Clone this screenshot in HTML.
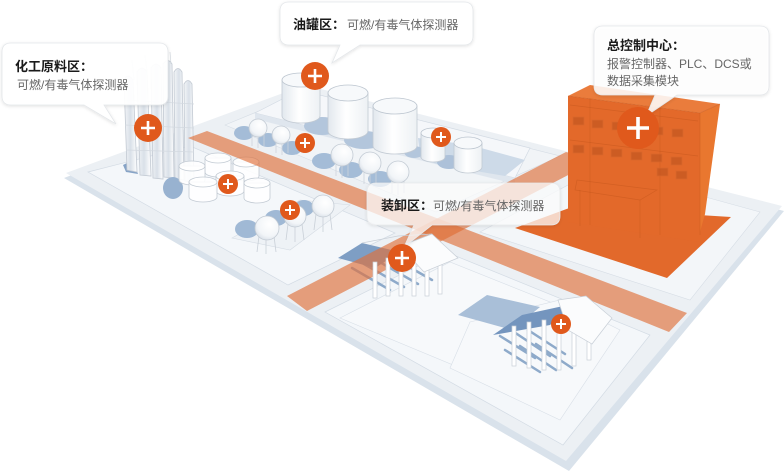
<!DOCTYPE html>
<html><head><meta charset="utf-8">
<style>
html,body{margin:0;padding:0;background:#fff;}
body{width:784px;height:471px;overflow:hidden;position:relative;}
svg{position:absolute;left:0;top:0;display:block;}
</style></head><body>
<svg width="784" height="471" viewBox="0 0 784 471" xmlns="http://www.w3.org/2000/svg">
<defs>
<linearGradient id="cyl" x1="0" x2="1" y1="0" y2="0">
<stop offset="0" stop-color="#e2e8ee"/><stop offset="0.45" stop-color="#ffffff"/><stop offset="1" stop-color="#edf1f4"/>
</linearGradient>
<linearGradient id="col" x1="0" x2="1" y1="0" y2="0">
<stop offset="0" stop-color="#f4f6f8"/><stop offset="0.5" stop-color="#d9e0e8"/><stop offset="1" stop-color="#ffffff"/>
</linearGradient>
<radialGradient id="sph" cx="0.6" cy="0.35" r="0.7">
<stop offset="0" stop-color="#ffffff"/><stop offset="0.7" stop-color="#f2f5f8"/><stop offset="1" stop-color="#d9e0e8"/>
</radialGradient>
<filter id="sh" x="-10%" y="-10%" width="120%" height="130%">
<feDropShadow dx="0" dy="1" stdDeviation="1.5" flood-color="#000" flood-opacity="0.12"/>
</filter>
</defs>

<!-- ground plane -->
<polygon points="64,178 305,85 784,211 569,471" fill="#d9e2eb"/>
<polygon points="66,173 305,85 782,206 566,461" fill="#ecf0f4"/>
<!-- zones -->
<polygon points="88,172 190,146 395,233 288,285" fill="#f4f7fa" stroke="#d3dbe4" stroke-width="0.7"/>
<polygon points="325,312 446,252 650,335 563,445" fill="#f4f7fa" stroke="#d3dbe4" stroke-width="0.7"/>
<polygon points="340,318 450,262 560,306 470,372" fill="#f7f9fb" stroke="#d8dfe7" stroke-width="0.6"/>
<polygon points="470,322 560,300 620,330 560,420 450,368" fill="#f7f9fb" stroke="#d8dfe7" stroke-width="0.6"/>
<polygon points="225,125 305,92 560,156 436,212" fill="#f1f4f7" stroke="#d6dde5" stroke-width="0.6"/>
<polygon points="480,232 600,168 760,212 690,300" fill="#f3f6f9" stroke="#d6dde5" stroke-width="0.6"/>

<!-- tank platform -->
<polygon points="255,113 300,90 530,148 515,178" fill="#f5f7fa" stroke="#d2dae3" stroke-width="0.7"/>
<polygon points="255,113 515,178 515,184 255,119" fill="#dfe6ee"/>
<polygon points="418,138 470,145 525,160 505,176 440,165 420,158" fill="#cddae8"/>

<!-- Q1 tank shadows -->
<ellipse cx="322" cy="126" rx="18" ry="9" fill="#b3c6dc"/>
<ellipse cx="364" cy="140" rx="20" ry="9" fill="#b3c6dc"/>
<ellipse cx="414" cy="152" rx="10" ry="6" fill="#b3c6dc"/>
<ellipse cx="449" cy="162" rx="12" ry="7" fill="#adc1d9"/>
<!-- Q1 tanks -->
<path d="M282,80 V116 A19,7 0 0 0 320,116 V80 Z" fill="url(#cyl)" stroke="#c2cad3" stroke-width="0.8"/>
<ellipse cx="301" cy="80" rx="19" ry="7" fill="#f7f9fb" stroke="#bcc5cf" stroke-width="0.8"/>
<path d="M328,93 V131 A20,8 0 0 0 368,131 V93 Z" fill="url(#cyl)" stroke="#c2cad3" stroke-width="0.8"/>
<ellipse cx="348" cy="93" rx="20" ry="8" fill="#f7f9fb" stroke="#bcc5cf" stroke-width="0.8"/>
<path d="M373,106 V146 A22,8 0 0 0 417,146 V106 Z" fill="url(#cyl)" stroke="#c2cad3" stroke-width="0.8"/>
<ellipse cx="395" cy="106" rx="22" ry="8" fill="#f7f9fb" stroke="#bcc5cf" stroke-width="0.8"/>
<path d="M421,133 V157 A12,5 0 0 0 445,157 V133 Z" fill="url(#cyl)" stroke="#c2cad3" stroke-width="0.8"/>
<ellipse cx="433" cy="133" rx="12" ry="5" fill="#f7f9fb" stroke="#bcc5cf" stroke-width="0.8"/>
<path d="M454,143 V167 A14,6 0 0 0 482,167 V143 Z" fill="url(#cyl)" stroke="#c2cad3" stroke-width="0.8"/>
<ellipse cx="468" cy="143" rx="14" ry="6" fill="#f7f9fb" stroke="#bcc5cf" stroke-width="0.8"/>

<!-- Q1 sphere row -->
<g fill="#a4bcd7">
<ellipse cx="244" cy="133" rx="10" ry="7"/>
<ellipse cx="268" cy="140" rx="10" ry="7"/>
<ellipse cx="292" cy="148" rx="10" ry="7"/>
<ellipse cx="324" cy="161" rx="12" ry="8"/>
<ellipse cx="351" cy="170" rx="12" ry="8"/>
<ellipse cx="380" cy="179" rx="12" ry="8"/>
</g>
<g stroke="#cdd4dc" stroke-width="0.8">
<line x1="252" y1="134" x2="252" y2="146"/><line x1="258" y1="136" x2="258" y2="148"/><line x1="264" y1="134" x2="264" y2="146"/>
<line x1="276" y1="141" x2="276" y2="153"/><line x1="282" y1="143" x2="282" y2="155"/><line x1="288" y1="141" x2="288" y2="153"/>
<line x1="336" y1="162" x2="336" y2="176"/><line x1="342" y1="164" x2="342" y2="178"/><line x1="348" y1="162" x2="348" y2="176"/>
<line x1="364" y1="170" x2="364" y2="184"/><line x1="370" y1="172" x2="370" y2="186"/><line x1="376" y1="170" x2="376" y2="184"/>
<line x1="392" y1="179" x2="392" y2="193"/><line x1="398" y1="181" x2="398" y2="195"/><line x1="404" y1="179" x2="404" y2="193"/>
</g>
<g fill="url(#sph)" stroke="#c3cbd4" stroke-width="0.8">
<circle cx="258" cy="128" r="9"/>
<circle cx="281" cy="135" r="9"/>
<circle cx="342" cy="155" r="11"/>
<circle cx="370" cy="163" r="11"/>
<circle cx="398" cy="172" r="11"/>
</g>

<!-- tower -->
<polygon points="123,165 133,160 138,174 126,172" fill="#86a3c6"/>
<g fill="url(#col)" stroke="#c3cad3" stroke-width="0.8">
<path d="M127,170 L124,80 Q128,72 133,80 L137,172 Z"/>
<path d="M140,175 L137,72 Q142,64 147,72 L151,176 Z"/>
<path d="M153,178 L151,68 Q156,60 161,68 L163,179 Z"/>
<path d="M164,177 L163,64 Q168,57 172,64 L174,178 Z"/>
<path d="M175,179 L174,72 Q178,65 182,72 L184,180 Z"/>
<path d="M185,181 L184,84 Q188,77 192,84 L194,182 Z"/>
</g>
<g stroke="#d3d9e0" stroke-width="0.7" fill="none">
<line x1="124" y1="100" x2="194" y2="104"/><line x1="125" y1="125" x2="194" y2="128"/><line x1="126" y1="150" x2="194" y2="152"/>
<line x1="132" y1="60" x2="134" y2="80"/><line x1="145" y1="55" x2="147" y2="72"/><line x1="170" y1="52" x2="171" y2="64"/>
</g>

<!-- Q3 cluster tanks -->
<ellipse cx="173" cy="188" rx="10" ry="11" fill="#98b2d0"/>
<g fill="#ffffff" fill-opacity="0.88" stroke="#c2cad3" stroke-width="0.8">
<path d="M205,158 V172 A13,5 0 0 0 231,172 V158 Z"/><ellipse cx="218" cy="158" rx="13" ry="5"/>
<path d="M179,166 V180 A13,5 0 0 0 205,180 V166 Z"/><ellipse cx="192" cy="166" rx="13" ry="5"/>
<path d="M233,162 V176 A13,5 0 0 0 259,176 V162 Z"/><ellipse cx="246" cy="162" rx="13" ry="5"/>
<path d="M216,176 V191 A14,5 0 0 0 244,191 V176 Z"/><ellipse cx="230" cy="176" rx="14" ry="5"/>
<path d="M189,182 V197 A14,5 0 0 0 217,197 V182 Z"/><ellipse cx="203" cy="182" rx="14" ry="5"/>
<path d="M244,183 V198 A13,5 0 0 0 270,198 V183 Z"/><ellipse cx="257" cy="183" rx="13" ry="5"/>
</g>

<!-- Q3 spheres -->
<polygon points="232,238 300,200 350,205 290,250" fill="#eef2f6" stroke="#d5dce4" stroke-width="0.6"/>
<g fill="#a0b9d5">
<ellipse cx="247" cy="229" rx="12" ry="9"/>
<ellipse cx="276" cy="218" rx="11" ry="8"/>
<ellipse cx="304" cy="208" rx="10" ry="8"/>
</g>
<g stroke="#c9d0d8" stroke-width="0.8">
<line x1="259" y1="236" x2="257" y2="252"/><line x1="266" y1="238" x2="266" y2="254"/><line x1="274" y1="236" x2="276" y2="252"/>
<line x1="288" y1="224" x2="286" y2="240"/><line x1="295" y1="226" x2="295" y2="242"/><line x1="302" y1="224" x2="304" y2="240"/>
<line x1="316" y1="214" x2="314" y2="230"/><line x1="323" y1="216" x2="323" y2="232"/><line x1="330" y1="214" x2="332" y2="230"/>
</g>
<g fill="url(#sph)" stroke="#c3cbd4" stroke-width="0.8">
<circle cx="267" cy="228" r="12"/>
<circle cx="295" cy="216" r="11"/>
<circle cx="323" cy="206" r="11"/>
</g>

<!-- shelter 1 roof / shadows (under road) -->
<g stroke="#8eaaca" stroke-width="2.5" stroke-linecap="round">
<line x1="352" y1="268" x2="390" y2="290"/><line x1="364" y1="264" x2="404" y2="287"/>
<line x1="376" y1="260" x2="418" y2="284"/><line x1="390" y1="256" x2="432" y2="280"/>
</g>
<polygon points="338,258 362,243 400,252 375,268" fill="#7e9ec4"/>

<!-- roads -->
<polygon points="188,138 207,131 687,313 669,332" fill="#e0703a" fill-opacity="0.65"/>
<polygon points="287,296 307,311 597,160 566,152" fill="#e0703a" fill-opacity="0.65"/>
<polygon points="438,218 465,229 444,240 415,230" fill="#e0703a" fill-opacity="0.15"/>

<!-- shelter 1 columns & roof -->
<g fill="#ffffff" stroke="#c8cfd7" stroke-width="0.7">
<rect x="373" y="262" width="4" height="36"/><rect x="386" y="258" width="4" height="38"/>
<rect x="399" y="256" width="4" height="40"/><rect x="412" y="258" width="4" height="38"/>
<rect x="425" y="260" width="4" height="36"/><rect x="438" y="262" width="4" height="32"/>
<polygon points="400,246 432,234 458,258 424,272" fill="#fbfcfd"/>
<polyline points="362,243 398,236 432,234" fill="none"/>
</g>

<!-- shelter 2 -->
<g stroke="#8eaaca" stroke-width="2.5" stroke-linecap="round">
<line x1="500" y1="336" x2="535" y2="358"/><line x1="514" y1="332" x2="550" y2="356"/>
<line x1="528" y1="330" x2="565" y2="354"/><line x1="505" y1="350" x2="540" y2="372"/>
<line x1="520" y1="346" x2="556" y2="370"/><line x1="536" y1="344" x2="572" y2="368"/>
</g>
<polygon points="458,315 487,295 540,307 512,330" fill="#a9bfd8"/>
<polygon points="493,335 522,315 577,303 550,325" fill="#7495be"/>
<g fill="#ffffff" stroke="#c8cfd7" stroke-width="0.7">
<rect x="512" y="326" width="4" height="40"/><rect x="527" y="322" width="4" height="46"/>
<rect x="542" y="320" width="4" height="50"/><rect x="557" y="318" width="4" height="52"/>
<rect x="572" y="316" width="4" height="50"/><rect x="587" y="316" width="4" height="44"/>
<polygon points="558,300 586,296 612,318 592,344 568,330" fill="#fbfcfd"/>
</g>

<!-- building -->
<polygon points="515,228 572,207 731,217 667,278" fill="#e2692b"/>
<polygon points="568,96 700,113 700,242 568,222" fill="#e3692a"/>
<polygon points="700,113 720,104 705,214 700,232" fill="#e9772f"/>
<polygon points="568,96 590,85 720,104 700,113" fill="#ea7c3c"/>
<g stroke="#c4561c" stroke-width="0.7" stroke-opacity="0.5" fill="none">
<polyline points="568,96 700,113 720,104"/><line x1="700" y1="113" x2="700" y2="235"/>
<line x1="570" y1="105" x2="698" y2="121"/><line x1="570" y1="140" x2="698" y2="156"/>
<line x1="590" y1="98" x2="590" y2="225"/><line x1="660" y1="108" x2="660" y2="235"/>
<polygon points="577,180 657,190 640,200 575,190"/>
<line x1="580" y1="190" x2="580" y2="226"/><line x1="640" y1="200" x2="640" y2="238"/>
</g>
<g fill="#bd5420" fill-opacity="0.6" stroke="#d9662b" stroke-width="0.8">
<rect x="573" y="117" width="11" height="8"/><rect x="592" y="120" width="11" height="8"/>
<rect x="612" y="122" width="11" height="8"/><rect x="652" y="127" width="11" height="8"/>
<rect x="672" y="129" width="11" height="8"/>
<rect x="573" y="145" width="11" height="8"/><rect x="592" y="147" width="11" height="8"/>
<rect x="611" y="149" width="11" height="8"/><rect x="631" y="152" width="11" height="8"/>
<rect x="651" y="154" width="11" height="8"/><rect x="671" y="157" width="11" height="8"/>
<rect x="657" y="168" width="11" height="8"/><rect x="676" y="171" width="11" height="8"/>
</g>

<!-- callouts -->
<g filter="url(#sh)">
<path d="M11,43 H159 Q168,43 168,52 V96 Q168,105 159,105 H104 L116,124 L84,105 H11 Q2,105 2,96 V52 Q2,43 11,43 Z" fill="#ffffff" fill-opacity="0.95" stroke="#e4e7ea" stroke-width="0.8"/>
<path d="M289,2 H464 Q473,2 473,11 V36 Q473,45 464,45 H360 L332,63 L340,45 H289 Q280,45 280,36 V11 Q280,2 289,2 Z" fill="#ffffff" fill-opacity="0.96" stroke="#e4e7ea" stroke-width="0.8"/>
<path d="M603,26 H760 Q769,26 769,35 V86 Q769,95 760,95 H677 L646,116 L655,95 H603 Q594,95 594,86 V35 Q594,26 603,26 Z" fill="#ffffff" fill-opacity="0.86" stroke="#e4e7ea" stroke-width="0.8"/>
<path d="M376,183 H551 Q560,183 560,192 V216 Q560,225 551,225 H432 L404,247 L414,225 H376 Q367,225 367,216 V192 Q367,183 376,183 Z" fill="#ffffff" fill-opacity="0.72" stroke="#e8eaec" stroke-width="0.8"/>
</g>

<!-- plus markers -->
<g fill="#e0591c">
<circle cx="148" cy="128" r="14"/><circle cx="315" cy="76" r="14"/>
<circle cx="305" cy="143" r="10"/><circle cx="228" cy="184" r="10"/>
<circle cx="290" cy="210" r="10"/><circle cx="441" cy="137" r="10"/>
<circle cx="638" cy="128" r="21"/><circle cx="402" cy="258" r="14"/>
<circle cx="561" cy="324" r="10"/>
</g>
<g stroke="#ffffff" stroke-linecap="butt">
<path d="M141,128 H155 M148,121 V135" stroke-width="2.6"/>
<path d="M308,76 H322 M315,69 V83" stroke-width="2.6"/>
<path d="M300,143 H310 M305,138 V148" stroke-width="2"/>
<path d="M223,184 H233 M228,179 V189" stroke-width="2"/>
<path d="M285,210 H295 M290,205 V215" stroke-width="2"/>
<path d="M436,137 H446 M441,132 V142" stroke-width="2"/>
<path d="M627,128 H649 M638,117 V139" stroke-width="3.6"/>
<path d="M395,258 H409 M402,251 V265" stroke-width="2.6"/>
<path d="M556,324 H566 M561,319 V329" stroke-width="2"/>
</g>

<!-- texts -->
<g font-family="'Liberation Sans','Noto Sans CJK SC',sans-serif">
<text x="15" y="71" font-size="13" font-weight="bold" fill="#1a1a1a">化工原料区：</text>
<text x="17" y="89" font-size="12" fill="#666666">可燃/有毒气体探测器</text>
<text x="293" y="29" font-size="13" font-weight="bold" fill="#1a1a1a">油罐区：</text>
<text x="347" y="29" font-size="12" fill="#666666">可燃/有毒气体探测器</text>
<text x="607" y="50" font-size="13" font-weight="bold" fill="#1a1a1a">总控制中心：</text>
<text x="607" y="68" font-size="12" fill="#666666">报警控制器、PLC、DCS或</text>
<text x="607" y="85" font-size="12" fill="#666666">数据采集模块</text>
<text x="381" y="210" font-size="13" font-weight="bold" fill="#1a1a1a">装卸区：</text>
<text x="433" y="210" font-size="12" fill="#666666">可燃/有毒气体探测器</text>
</g>
</svg>
</body></html>
